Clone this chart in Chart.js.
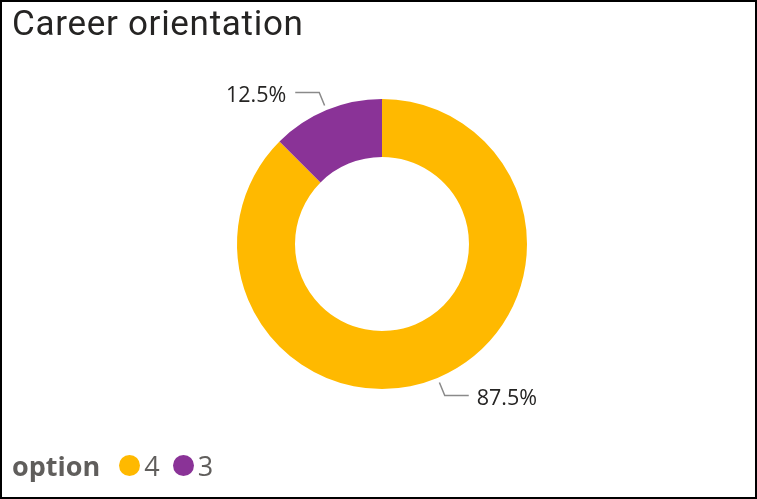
<!DOCTYPE html>
<html><head><meta charset="utf-8">
<script src="https://cdn.jsdelivr.net/npm/chart.js@4/dist/chart.umd.min.js"></script>
<style>
html,body{margin:0;padding:0;background:#fff;}
#frame{position:absolute;left:0;top:0;width:753px;height:495px;border:2px solid #000;overflow:hidden;}
#title{position:absolute;left:10px;top:1px;font-family:Roboto,sans-serif;font-size:35px;letter-spacing:0.7px;color:#252423;white-space:nowrap;}
#wrap{position:absolute;left:0;top:0;width:753px;height:495px;}
#legend{position:absolute;left:10px;top:445px;font-family:"Open Sans",sans-serif;font-size:27px;color:#605E5C;white-space:nowrap;display:flex;align-items:center;}
#legend b{font-weight:700;margin-right:19px;}
.dot{display:inline-block;width:21px;height:21px;border-radius:50%;margin-right:4px;}
.item{display:flex;align-items:center;margin-right:13px;}
</style></head>
<body>
<div id="frame">
<div id="wrap"><canvas id="c"></canvas></div>
<div id="title">Career orientation</div>
<div id="legend"><b>option</b></div>
</div>
<script>
const categories = ["4", "3"];
const values = [87.5, 12.5];
const colors = ["#FFB900", "#8A3397"];
const legendTitle = "option";

const leg = document.getElementById('legend');
categories.forEach((c,i)=>{
  const s=document.createElement('span');s.className='item';
  s.innerHTML='<span class="dot" style="background:'+colors[i]+'"></span>'+c;
  leg.appendChild(s);
});

const labelPlugin = {
  id:'lbl',
  afterDatasetsDraw(chart){
    const ctx=chart.ctx;
    const meta=chart.getDatasetMeta(0);
    const total=values.reduce((a,b)=>a+b,0);
    meta.data.forEach((arc,i)=>{
      const p=arc.getProps(['x','y','startAngle','endAngle','outerRadius'],true);
      const mid=(p.startAngle+p.endAngle)/2;
      const r1=p.outerRadius+5, r2=p.outerRadius+19;
      const x1=p.x+Math.cos(mid)*r1, y1=p.y+Math.sin(mid)*r1;
      const x2=p.x+Math.cos(mid)*r2, y2=p.y+Math.sin(mid)*r2;
      const right=Math.cos(mid)>=0;
      const x3=x2+(right?24:-24);
      ctx.save();
      ctx.strokeStyle='#8a8a8a';ctx.lineWidth=1.5;
      ctx.beginPath();ctx.moveTo(x1,y1);ctx.lineTo(x2,y2);ctx.lineTo(x3,y2);ctx.stroke();
      ctx.fillStyle='#252423';
      ctx.font='21.5px "Open Sans", sans-serif';
      ctx.textBaseline='middle';
      ctx.textAlign=right?'left':'right';
      const txt=(values[i]/total*100).toFixed(1)+'%';
      ctx.fillText(txt,x3+(right?8:-9),y2+3);
      ctx.restore();
    });
  }
};

new Chart(document.getElementById('c'),{
  type:'doughnut',
  data:{labels:categories,datasets:[{data:values,backgroundColor:colors,borderWidth:0,hoverOffset:0}]},
  options:{
    responsive:true,maintainAspectRatio:false,animation:false,
    cutout:'60%',
    layout:{padding:{left:235,right:228,top:96,bottom:107}},
    plugins:{legend:{display:false},tooltip:{enabled:false}}
  },
  plugins:[labelPlugin]
});
</script>
</body></html>
